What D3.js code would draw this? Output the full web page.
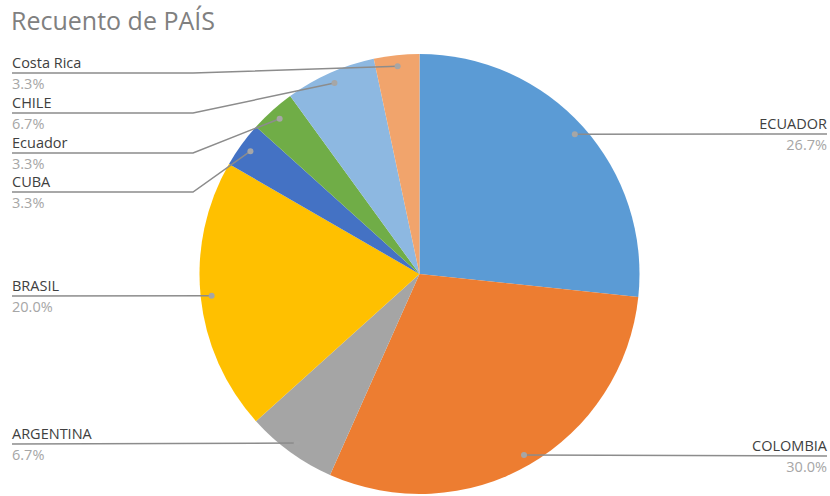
<!DOCTYPE html>
<html>
<head>
<meta charset="utf-8">
<script src="https://cdn.jsdelivr.net/npm/d3@7"></script>
<style>
  body { margin: 0; background: #fff; }
  text { font-family: "Open Sans", "Noto Sans", sans-serif; }
</style>
</head>
<body>
<div id="chart"></div>
<script>
// data: country counts (clockwise from 12 o'clock)
var countries = ["ECUADOR", "COLOMBIA", "ARGENTINA", "BRASIL", "CUBA", "Ecuador", "CHILE", "Costa Rica"];
var counts = [8, 9, 2, 6, 1, 1, 2, 1];
var colors = ["#5B9BD5", "#ED7D31", "#A5A5A5", "#FFC000", "#4472C4", "#70AD47", "#8DB8E1", "#F1A46C"];
// label anchor rows (y of underline) and side
var labelY = [134, 456, 444, 296, 192, 153, 113, 73];
var labelSide = ["right", "right", "left", "left", "left", "left", "left", "left"];

var width = 830, height = 496;
var cx = 419.5, cy = 274, radius = 220;

var svg = d3.select("#chart")
  .append("svg")
    .attr("width", width)
    .attr("height", height);

svg.append("text")
  .attr("x", 11)
  .attr("y", 30)
  .attr("fill", "#808080")
  .style("font-size", "25px")
  .text("Recuento de PAÍS");

var total = d3.sum(counts);
var data = countries.map(function(c, i) {
  return {name: c, value: counts[i], color: colors[i], ly: labelY[i], side: labelSide[i]};
});

var pie = d3.pie().sort(null).value(function(d) { return d.value; });
var arc = d3.arc().innerRadius(0).outerRadius(radius);
var dotArc = d3.arc().innerRadius(radius * 0.95).outerRadius(radius * 0.95);

var g = svg.append("g").attr("transform", "translate(" + cx + "," + cy + ")");

var arcs = pie(data);

g.selectAll(".slice")
  .data(arcs)
  .enter().append("path")
  .attr("class", "slice")
  .attr("d", arc)
  .attr("fill", function(d) { return d.data.color; });

// leader lines
var fmt = d3.format(".1%");
arcs.forEach(function(d) {
  var p = dotArc.centroid(d);
  var px = cx + p[0], py = cy + p[1];
  var pts;
  if (d.data.side == "right") {
    pts = [[px, py], [827, d.data.ly]];
  } else if (Math.abs(py - d.data.ly) < 3) {
    pts = [[px, py], [12, d.data.ly]];
  } else {
    pts = [[px, py], [193, d.data.ly], [12, d.data.ly]];
  }
  svg.append("path")
    .attr("d", d3.line()(pts))
    .attr("fill", "none")
    .attr("stroke", "#8c8c8c")
    .attr("stroke-width", 1.5);
  svg.append("circle")
    .attr("cx", px).attr("cy", py).attr("r", 3)
    .attr("fill", "#a6a6a6");

  var tx = d.data.side == "right" ? 827 : 12;
  var anchor = d.data.side == "right" ? "end" : "start";
  svg.append("text")
    .attr("x", tx).attr("y", d.data.ly - 5)
    .attr("text-anchor", anchor)
    .attr("fill", "#404040")
    .style("font-size", "14.5px")
    .text(d.data.name);
  svg.append("text")
    .attr("x", tx).attr("y", d.data.ly + 16)
    .attr("text-anchor", anchor)
    .attr("fill", "#a6a6a6")
    .style("font-size", "14.5px")
    .text(fmt(d.data.value / total));
});
</script>
</body>
</html>
